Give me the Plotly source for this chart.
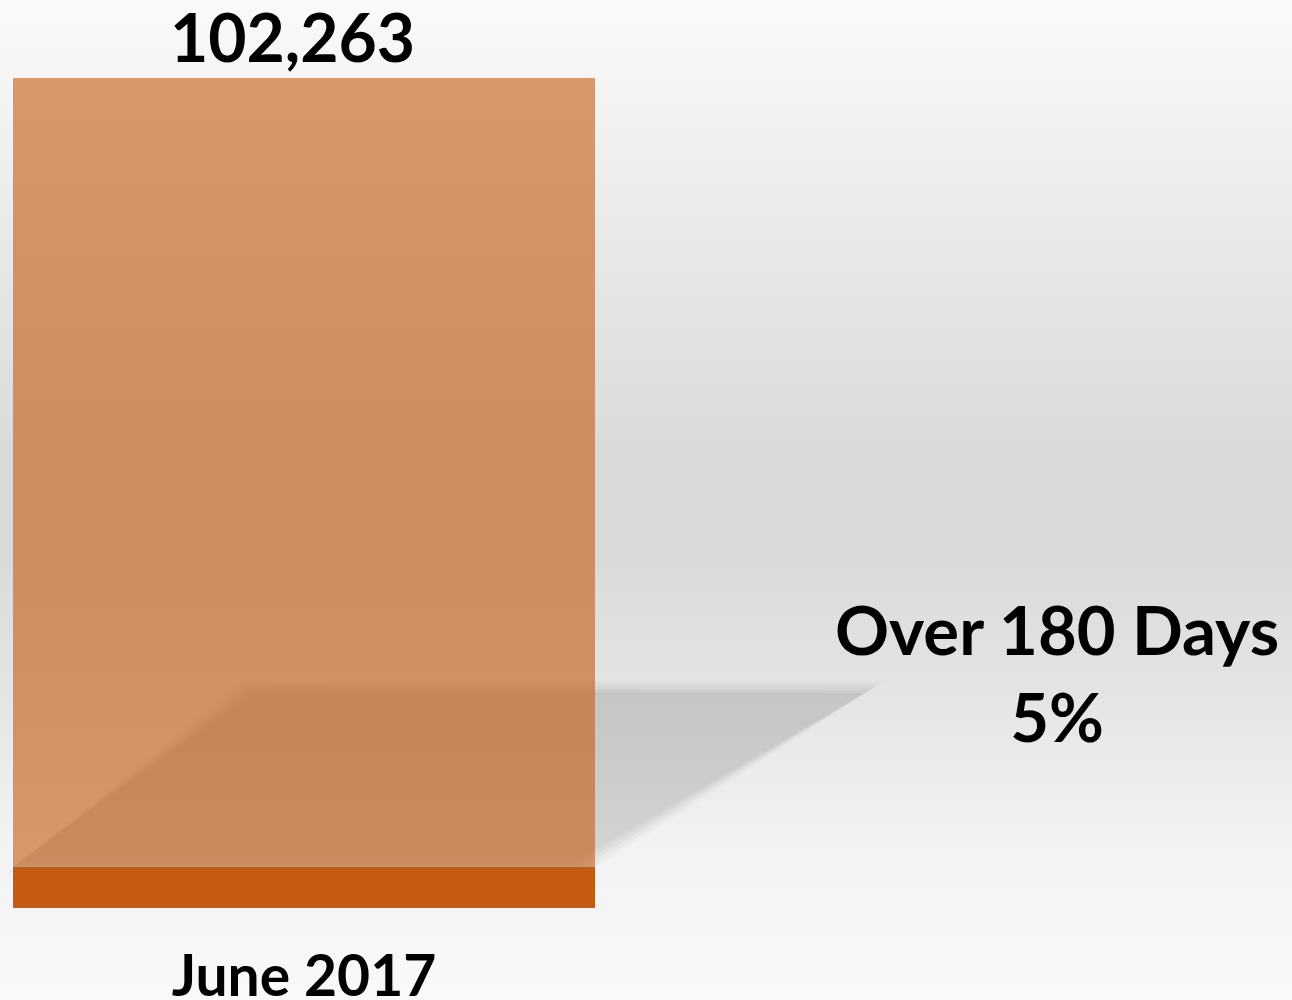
import plotly.graph_objects as go

# ---- data ----
categories = ["June 2017"]
total_values = [102263]
over_180_pct = [5]
over_180_values = [5113]
under_180_values = [97150]
segment_names = ["Over 180 Days", "Up to 180 Days"]

W, H = 1292, 1000
MT, MB = 0, 92
PH = H - MT - MB
BAR_L, BAR_R = 13, 595
px_per_unit = BAR_R - BAR_L
x_min = -0.5 - BAR_L / px_per_unit
x_max = x_min + W / px_per_unit
y_max = total_values[0] * PH / (PH - 78)

FONT = "Lato"
ORANGE = "#C55A11"

fig = go.Figure()
fig.add_trace(go.Bar(x=categories, y=over_180_values, name=segment_names[0],
                     marker=dict(color=ORANGE, line=dict(width=0)), width=1.0))
fig.add_trace(go.Bar(x=categories, y=under_180_values, name=segment_names[1],
                     marker=dict(color="rgba(197,90,17,0.6)", line=dict(width=0)), width=1.0))

# background vertical gradient (decorative)
stops = [(0, 250), (250, 232), (450, 218), (560, 218), (700, 229), (850, 243), (1000, 249)]
def grey(py):
    for (a, ga), (b, gb) in zip(stops[:-1], stops[1:]):
        if a <= py <= b:
            return ga + (gb - ga) * (py - a) / (b - a)
    return stops[-1][1]

shapes = []
step = 8
for py in range(0, H, step):
    g = int(round(grey(py + step / 2)))
    shapes.append(dict(type="rect", xref="paper", yref="paper", layer="below",
                       x0=-0.01, x1=1.01,
                       y0=(PH - (py + step + 1)) / PH, y1=(PH - py) / PH,
                       fillcolor=f"rgb({g},{g},{g})", line=dict(width=0)))

# soft perspective shadow (decorative)
def ppath(pts):
    s = ""
    for i, (x, y) in enumerate(pts):
        s += ("M" if i == 0 else "L") + f"{x / W:.5f},{(PH - y) / PH:.5f} "
    return s + "Z"

base = [(250, 687), (873, 688), (580, 867), (13, 867)]
for d, a in [(7, 0.018), (4, 0.022), (1, 0.027), (-2, 0.03), (-5, 0.03)]:
    pts = [(base[0][0] - d, base[0][1] - d), (base[1][0] + d * 1.6, base[1][1] - d),
           (base[2][0] + d, base[2][1] + d), (base[3][0] - d, base[3][1] + d)]
    shapes.append(dict(type="path", xref="paper", yref="paper", layer="below",
                       path=ppath(pts), fillcolor=f"rgba(0,0,0,{a})", line=dict(width=0)))

annotations = [
    dict(x=categories[0], y=total_values[0], xref="x", yref="y",
         text=f"{total_values[0]:,}", showarrow=False, yanchor="bottom", yshift=0, xshift=-12,
         font=dict(family=FONT, size=66, color="black", weight=700)),
    dict(x=x_min + 1057 / px_per_unit, y=(PH - 672) / PH, xref="x", yref="paper",
         text=f"{segment_names[0]}<br>{over_180_pct[0]}%", showarrow=False,
         xanchor="center", yanchor="middle", align="center",
         font=dict(family=FONT, size=67, color="black", weight=700)),
]

fig.update_layout(
    width=W, height=H, barmode="stack", showlegend=False,
    margin=dict(l=0, r=0, t=MT, b=MB, pad=0),
    paper_bgcolor="rgb(248,248,248)", plot_bgcolor="rgba(0,0,0,0)",
    shapes=shapes, annotations=annotations,
    xaxis=dict(range=[x_min, x_max], showgrid=False, zeroline=False, showline=False,
               ticks="", automargin=False, ticklabelstandoff=30,
               tickfont=dict(family=FONT, size=57, color="black", weight=700)),
    yaxis=dict(range=[0, y_max], visible=False, automargin=False),
)

fig.write_html("out.html", config={"displayModeBar": False},
               post_script="document.body.style.margin='0';document.body.style.overflow='hidden';")
